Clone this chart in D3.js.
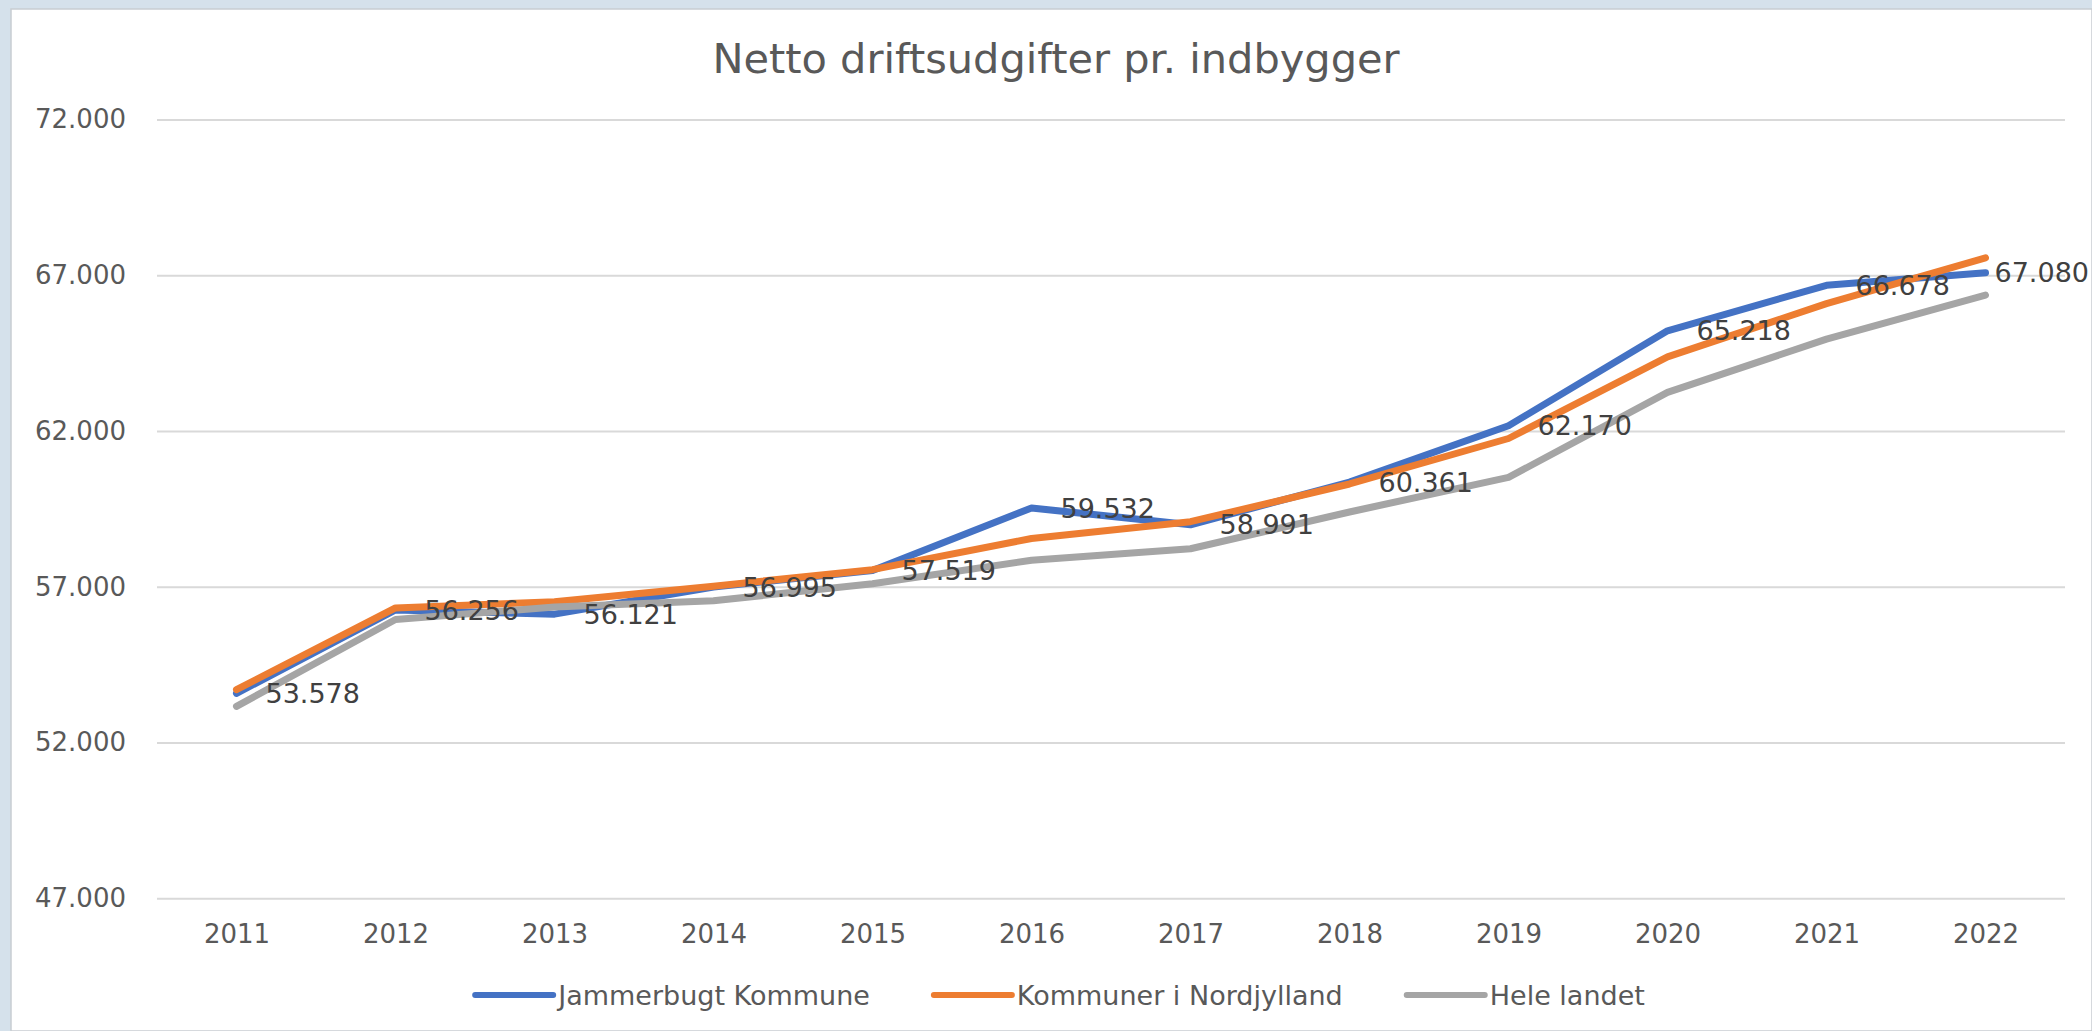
<!DOCTYPE html>
<meta charset="utf-8">

<!-- Load d3.js -->
<script src="https://d3js.org/d3.v7.min.js"></script>

<div id="my_dataviz"></div>

<script>

    // data
    var years = ["2011", "2012", "2013", "2014", "2015", "2016", "2017", "2018", "2019", "2020", "2021", "2022"];
    var jammerbugt = [53578, 56256, 56121, 56995, 57519, 59532, 58991, 60361, 62170, 65218, 66678, 67080];
    var nordjylland = [53700, 56320, 56520, 57020, 57550, 58550, 59090, 60300, 61760, 64380, 66090, 67560];
    var heleLandet = [53160, 55950, 56350, 56550, 57100, 57850, 58220, 59400, 60510, 63240, 64950, 66360];
    var yTicks = [47000, 52000, 57000, 62000, 67000, 72000];

    var seriesNames = ["Jammerbugt Kommune", "Kommuner i Nordjylland", "Hele landet"];
    var seriesColors = ["#4472C4", "#ED7D31", "#A5A5A5"];
    var seriesValues = [jammerbugt, nordjylland, heleLandet];

    // danish number format: 72.000
    var locale = d3.formatLocale({decimal: ",", thousands: ".", grouping: [3], currency: ["", " kr."]});
    var fmt = locale.format(",.0f");

    var W = 2092, H = 1031;
    var plot = {left: 157, right: 2065, top: 119.5, bottom: 898.3};
    var font = "'DejaVu Sans', sans-serif";

    var svg = d3.select("#my_dataviz")
        .append("svg")
        .attr("width", W)
        .attr("height", H);

    // outer frame
    svg.append("rect")
        .attr("width", W).attr("height", H)
        .attr("fill", "#d5e1eb");
    svg.append("rect")
        .attr("x", 11).attr("y", 9)
        .attr("width", W - 11).attr("height", H - 9)
        .attr("fill", "#ffffff")
        .attr("stroke", "#c8cdd2")
        .attr("stroke-width", 1.5);

    // scales
    var x = d3.scalePoint()
        .domain(years)
        .range([plot.left, plot.right])
        .padding(0.5);

    var y = d3.scaleLinear()
        .domain([47000, 72000])
        .range([plot.bottom, plot.top]);

    // gridlines + y labels
    var yAxis = svg.append("g")
        .attr("transform", "translate(" + plot.left + ",0)")
        .call(d3.axisLeft(y).tickValues(yTicks).tickFormat(fmt)
            .tickSize(-(plot.right - plot.left)).tickPadding(31));
    yAxis.select(".domain").remove();
    yAxis.selectAll("line")
        .attr("stroke", "#d9d9d9")
        .attr("stroke-width", 2);
    yAxis.selectAll("text")
        .attr("fill", "#595959")
        .style("font-family", font)
        .style("font-size", "26px");

    // x labels
    var xAxis = svg.append("g")
        .attr("transform", "translate(0," + plot.bottom + ")")
        .call(d3.axisBottom(x).tickSize(0).tickPadding(0));
    xAxis.select(".domain").remove();
    xAxis.selectAll("text")
        .attr("dy", null)
        .attr("y", 45)
        .attr("fill", "#595959")
        .style("font-family", font)
        .style("font-size", "26px");

    // lines
    var line = d3.line()
        .x(function(d, i) { return x(years[i]); })
        .y(function(d) { return y(d); });

    seriesValues.forEach(function(vals, k) {
        svg.append("path")
            .datum(vals)
            .attr("d", line)
            .attr("fill", "none")
            .attr("stroke", seriesColors[k])
            .attr("stroke-width", 7)
            .attr("stroke-linejoin", "round")
            .attr("stroke-linecap", "round");
    });

    // data labels for Jammerbugt, placed right of the point
    svg.append("g")
        .selectAll("text")
        .data(jammerbugt)
        .enter()
        .append("text")
        .attr("x", function(d, i) { return x(years[i]) + 29; })
        .attr("y", function(d) { return y(d); })
        .attr("dy", "0.36em")
        .attr("fill", "#404040")
        .style("font-family", font)
        .style("font-size", "27px")
        .text(function(d) { return fmt(d); })
        .each(function() {
            // keep label inside the chart
            var w = this.getComputedTextLength();
            var x0 = +d3.select(this).attr("x");
            if (x0 + w > W - 3) d3.select(this).attr("x", W - 3 - w);
        });

    // title
    svg.append("text")
        .attr("x", 1056)
        .attr("y", 73)
        .attr("text-anchor", "middle")
        .attr("fill", "#595959")
        .style("font-family", font)
        .style("font-size", "41.5px")
        .text("Netto driftsudgifter pr. indbygger");

    // legend
    var legend = svg.append("g").attr("transform", "translate(0,995)");
    var items = legend.selectAll("g")
        .data(seriesNames)
        .enter()
        .append("g");
    items.append("line")
        .attr("x1", 0).attr("x2", 78)
        .attr("stroke", function(d, i) { return seriesColors[i]; })
        .attr("stroke-width", 6)
        .attr("stroke-linecap", "round");
    items.append("text")
        .attr("x", 83)
        .attr("dy", "0.36em")
        .attr("fill", "#595959")
        .style("font-family", font)
        .style("font-size", "27px")
        .text(function(d) { return d; });

    var widths = [];
    items.each(function() { widths.push(this.getBBox().width); });
    var gap = 64;
    var total = d3.sum(widths) + gap * (widths.length - 1);
    var pos = 1060 - total / 2;
    items.attr("transform", function(d, i) {
        var t = "translate(" + pos + ",0)";
        pos += widths[i] + gap;
        return t;
    });

</script>

<style>
    body { margin: 0; background: #ffffff; }
    #my_dataviz svg { display: block; }
</style>
